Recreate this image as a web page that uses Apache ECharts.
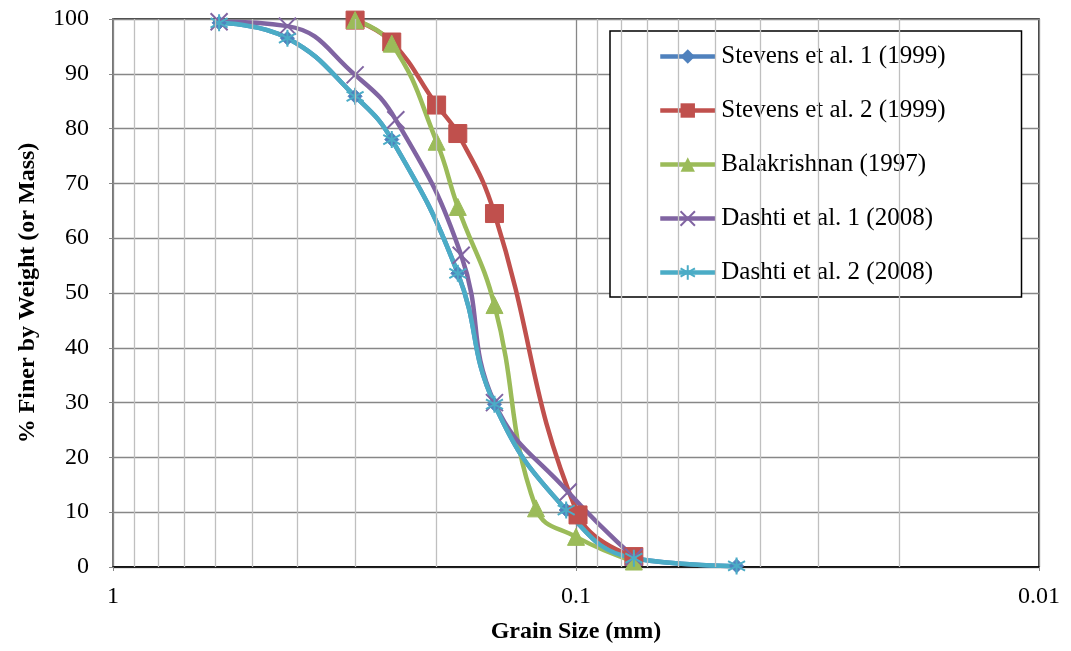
<!DOCTYPE html>
<html>
<head>
<meta charset="utf-8">
<script src="https://cdn.jsdelivr.net/npm/echarts@6/dist/echarts.min.js"></script>
<style>html,body{margin:0;padding:0;background:#fff}#c{width:1071px;height:651px}</style>
</head>
<body>
<div id="c"></div>
<script>
// ---- data ----
var seriesNames = ['Stevens et al. 1 (1999)', 'Stevens et al. 2 (1999)', 'Balakrishnan (1997)', 'Dashti et al. 1 (2008)', 'Dashti et al. 2 (2008)'];
var stevens1Size = [0.59, 0.42, 0.3, 0.25, 0.18, 0.15, 0.105, 0.075, 0.045];
var stevens1Pct  = [99.3, 96.5, 85.9, 78.0, 53.6, 29.7, 10.4, 1.6, 0.2];
var stevens2Size = [0.3, 0.25, 0.2, 0.18, 0.15, 0.099, 0.075];
var stevens2Pct  = [99.8, 95.8, 84.3, 79.1, 64.5, 9.5, 1.9];
var balaSize = [0.3, 0.25, 0.2, 0.18, 0.15, 0.122, 0.1, 0.075];
var balaPct  = [99.8, 95.5, 77.6, 65.7, 47.8, 10.7, 5.5, 1.0];
var dashti1Size = [0.59, 0.42, 0.3, 0.245, 0.177, 0.15, 0.104, 0.075];
var dashti1Pct  = [99.5, 98.7, 89.8, 81.6, 56.9, 30.0, 13.7, 1.8];
var dashti2Size = [0.59, 0.42, 0.3, 0.25, 0.18, 0.15, 0.105, 0.075, 0.045];
var dashti2Pct  = [99.3, 96.5, 85.9, 78.0, 53.6, 29.7, 10.4, 1.6, 0.2];
var xTickValues = [1, 0.1, 0.01];
var xTickLabels = ['1', '0.1', '0.01'];
var minorGridValues = [0.9, 0.8, 0.7, 0.6, 0.5, 0.4, 0.3, 0.2, 0.09, 0.08, 0.07, 0.06, 0.05, 0.04, 0.03, 0.02];

var colors = ['#4F81BD', '#C0504D', '#9BBB59', '#8064A2', '#4BACC6'];
var xPath = 'path://M0,0L10,10M10,0L0,10';
var starPath = 'path://M5,0L5,10M0.7,2.2L9.3,7.8M0.7,7.8L9.3,2.2';

function pairs(xs, ys) { return xs.map(function (x, i) { return [x, ys[i]]; }); }

var chart = echarts.init(document.getElementById('c'), null, { renderer: 'canvas' });
var font = '"Liberation Serif", "Times New Roman", serif';

function mk(name, xs, ys, color, symbol, size, extra) {
  var s = {
    name: name, type: 'line', data: pairs(xs, ys), smooth: 0.45,
    symbol: symbol, symbolSize: size, showSymbol: true,
    lineStyle: { color: color, width: 4.5 },
    itemStyle: { color: color, borderColor: color },
    emphasis: { disabled: true }, z: 3
  };
  if (extra) Object.assign(s, extra);
  return s;
}

var series = [
  {
    name: '_grid', type: 'line', data: [], silent: true,
    markLine: {
      silent: true, symbol: ['none', 'none'], label: { show: false },
      lineStyle: { color: '#BFBFBF', width: 1.3, type: 'solid' },
      data: minorGridValues.map(function (v) { return { xAxis: v }; })
    }, z: 1
  },
  mk(seriesNames[0], stevens1Size, stevens1Pct, colors[0], 'diamond', 14),
  mk(seriesNames[1], stevens2Size, stevens2Pct, colors[1], 'rect', 18),
  mk(seriesNames[2], balaSize, balaPct, colors[2], 'triangle', 17),
  mk(seriesNames[3], dashti1Size, dashti1Pct, colors[3], xPath, 17,
     { itemStyle: { color: colors[3], borderColor: colors[3], borderWidth: 2 } }),
  mk(seriesNames[4], dashti2Size, dashti2Pct, colors[4], starPath, 17,
     { itemStyle: { color: colors[4], borderColor: colors[4], borderWidth: 2 } })
];

chart.setOption({
  animation: false,
  backgroundColor: '#fff',
  grid: { left: 113, right: 32, top: 19, bottom: 84, show: true, borderColor: '#000', borderWidth: 1.5, backgroundColor: 'transparent' },
  legend: {
    data: seriesNames, orient: 'vertical', left: 610, top: 31,
    padding: [13, 76, 12, 48], itemGap: 29, itemWidth: 55, itemHeight: 18,
    backgroundColor: '#fff', borderColor: '#000', borderWidth: 1.5,
    lineStyle: { width: 4.5 },
    textStyle: { fontFamily: font, fontSize: 25, color: '#000', padding: [0, 0, 0, 1] },
    inactiveColor: '#ccc'
  },
  xAxis: {
    type: 'log', logBase: 10, min: 0.01, max: 1, inverse: true,
    name: 'Grain Size (mm)', nameLocation: 'middle', nameGap: 53,
    nameTextStyle: { fontFamily: font, fontSize: 24, fontWeight: 'bold', color: '#000' },
    axisLine: { show: true, lineStyle: { color: '#000', width: 1.5 } },
    axisTick: { show: true, length: 4, lineStyle: { color: '#878787' } },
    axisLabel: {
      fontFamily: font, fontSize: 24, color: '#000', margin: 18,
      formatter: function (v) {
        for (var i = 0; i < xTickValues.length; i++) if (Math.abs(v - xTickValues[i]) < 1e-9) return xTickLabels[i];
        return '';
      }
    },
    splitLine: { show: true, lineStyle: { color: '#878787', width: 1.3 } }
  },
  yAxis: {
    type: 'value', min: 0, max: 100, interval: 10,
    name: '% Finer by Weight (or Mass)', nameLocation: 'middle', nameGap: 73,
    nameTextStyle: { fontFamily: font, fontSize: 24, fontWeight: 'bold', color: '#000' },
    axisLine: { show: true, lineStyle: { color: '#878787', width: 1.5 } },
    axisTick: { show: true, length: 4, inside: false, lineStyle: { color: '#878787' } },
    axisLabel: { fontFamily: font, fontSize: 24, color: '#000', margin: 24 },
    splitLine: { show: true, lineStyle: { color: '#878787', width: 1.3 } }
  },
  series: series
});
</script>
</body>
</html>
